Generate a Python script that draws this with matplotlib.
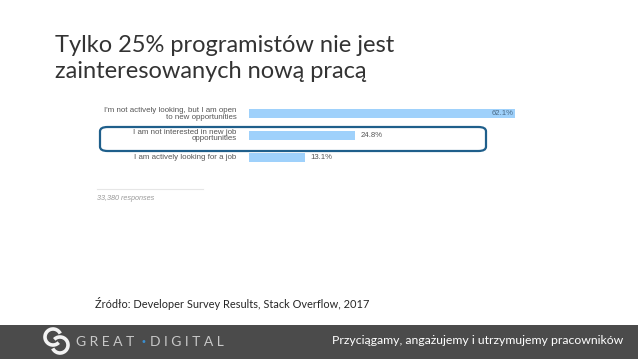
import matplotlib
matplotlib.use('Agg')
import matplotlib.pyplot as plt
from matplotlib.patches import FancyBboxPatch, Rectangle, Arc

W, H = 638, 359

# survey answers and shares (%)
answers = ['I\'m not actively looking, but I am open\nto new opportunities',
           'I am not interested in new job\nopportunities',
           'I am actively looking for a job']
shares = [62.1, 24.8, 13.1]
responses = '33,380 responses'

title_lines = ['Tylko 25% programistów nie jest', 'zainteresowanych nową pracą']
source = 'Źródło: Developer Survey Results, Stack Overflow, 2017'
footer = 'Przyciągamy, angażujemy i utrzymujemy pracowników'

fig = plt.figure(figsize=(W / 100, H / 100), dpi=100)
fig.patch.set_facecolor('white')


def fx(px):
    return px / W


def fy(py):
    return 1 - py / H


# title, one text per line
for line, base in zip(title_lines, [52, 78]):
    fig.text(fx(55), fy(base), line, family='Lato', fontsize=17,
             color='#333333', va='baseline', ha='left')

# bar chart
ax = fig.add_axes([fx(249), fy(168), fx(515) - fx(249), (168 - 103) / H])
ypos = list(range(len(shares)))
ax.barh(ypos, shares, height=0.42, color='#9fd1fb')
ax.set_xlim(0, max(shares))
ax.set_ylim(len(shares) - 0.5, -0.5)
ax.axis('off')
for y, v, lab in zip(ypos, shares, answers):
    if v == max(shares):
        ax.text(v - 0.4, y, f'{v}%', ha='right', va='center', fontsize=5.6,
                family='Liberation Sans', color='#4a6a86')
    else:
        ax.text(v + 1.2, y, f'{v}%', ha='left', va='center', fontsize=5.6,
                family='Liberation Sans', color='#555555')
    ax.text(-2.9, y, lab, ha='right', va='center', fontsize=5.7,
            family='Liberation Sans', color='#555555', linespacing=0.92)

# highlight box round the second answer
box = FancyBboxPatch((fx(100), fy(151)), fx(486) - fx(100), (151 - 127) / H,
                     boxstyle='round,pad=0,rounding_size=0.012',
                     transform=fig.transFigure, fill=False,
                     edgecolor='#1f5f8b', linewidth=1.6)
fig.patches.append(box)

# responses note
fig.add_artist(plt.Line2D([fx(97), fx(203)], [fy(189), fy(189)],
                          transform=fig.transFigure, color='#e6e6e6', lw=0.8))
fig.text(fx(97), fy(199), responses, fontsize=5.2, style='italic',
         family='Liberation Sans', color='#999999', va='center')

# source
fig.text(fx(95), fy(304), source, family='Lato', fontsize=7.9,
         color='#262626', va='center')

# footer band
fig.patches.append(Rectangle((0, 0), 1, (H - 325) / H, transform=fig.transFigure,
                             facecolor='#4b4b4b', edgecolor='none'))
fig.text(fx(623), fy(341), footer, family='Lato', fontsize=8.8,
         color='white', va='center', ha='right')

# logo
for cx, cy, t1, t2 in [(53, 337, 40, 300), (60, 345, 220, 120)]:
    fig.patches.append(Arc((fx(cx), fy(cy)), 16 / W, 16 / H, theta1=t1, theta2=t2,
                           transform=fig.transFigure, color='#f2f2f2', lw=2.6))
fig.text(fx(76), fy(342), 'G R E A T', family='Lato', fontsize=10,
         color='#c8c8c8', va='center')
fig.text(fx(140), fy(342), '•', family='DejaVu Sans', fontsize=7,
         color='#3a8fd0', va='center')
fig.text(fx(150), fy(342), 'D I G I T A L', family='Lato', fontsize=10,
         color='#c8c8c8', va='center')

fig.savefig('out.png', dpi=100, facecolor='white')
